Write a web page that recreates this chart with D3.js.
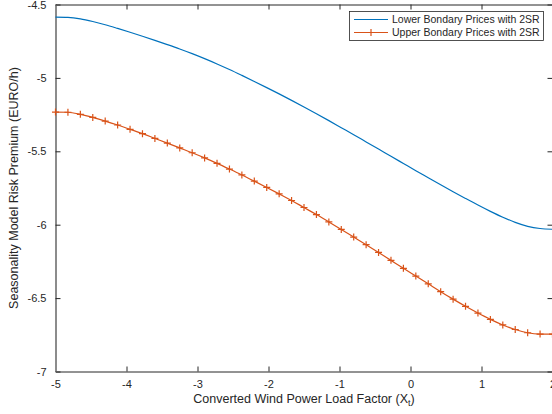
<!DOCTYPE html>
<html>
<head>
<meta charset="utf-8">
<script src="https://cdn.jsdelivr.net/npm/d3@7"></script>
<style>
  html, body { margin: 0; padding: 0; background: #fff; }
  svg { display: block; font-family: "Liberation Sans", Arial, Helvetica, sans-serif; }
</style>
</head>
<body>
<svg id="chart" width="552" height="414"></svg>
<script>
// Load factor grid (41 samples from -5 to 2)
const loadFactor = [
  -5, -4.825, -4.65, -4.475, -4.3, -4.125, -3.95, -3.775, -3.6, -3.425,
  -3.25, -3.075, -2.9, -2.725, -2.55, -2.375, -2.2, -2.025, -1.85, -1.675,
  -1.5, -1.325, -1.15, -0.975, -0.8, -0.625, -0.45, -0.275, -0.1, 0.075,
  0.25, 0.425, 0.6, 0.775, 0.95, 1.125, 1.3, 1.475, 1.65, 1.825, 2
];

// Lower boundary prices with 2SR
const lowerPrices = [
  -4.586, -4.588, -4.598, -4.616, -4.638, -4.663, -4.689, -4.716, -4.744, -4.773,
  -4.803, -4.835, -4.869, -4.905, -4.943, -4.983, -5.024, -5.066, -5.109, -5.153,
  -5.198, -5.244, -5.291, -5.339, -5.387, -5.436, -5.485, -5.534, -5.583, -5.632,
  -5.680, -5.728, -5.775, -5.821, -5.866, -5.909, -5.949, -5.984, -6.011, -6.026,
  -6.031
];

// Upper boundary prices with 2SR
const upperPrices = [
  -5.233, -5.234, -5.248, -5.269, -5.294, -5.321, -5.350, -5.380, -5.412, -5.444,
  -5.477, -5.510, -5.545, -5.582, -5.621, -5.661, -5.703, -5.746, -5.790, -5.835,
  -5.883, -5.931, -5.981, -6.032, -6.084, -6.136, -6.189, -6.243, -6.297, -6.350,
  -6.403, -6.456, -6.507, -6.556, -6.602, -6.645, -6.683, -6.714, -6.736, -6.745,
  -6.746
];

const xTicks = [-5, -4, -3, -2, -1, 0, 1, 2];
const yTicks = [-7, -6.5, -6, -5.5, -5, -4.5];
const xTickLabels = ["-5", "-4", "-3", "-2", "-1", "0", "1", "2"];
const yTickLabels = ["-7", "-6.5", "-6", "-5.5", "-5", "-4.5"];

const seriesNames = ["Lower Bondary Prices with 2SR", "Upper Bondary Prices with 2SR"];
const seriesColors = ["#0072BD", "#D95319"];

const svg = d3.select("#chart");
const plot = { left: 55.5, right: 552.5, top: 4.5, bottom: 371.5 };

const x = d3.scaleLinear().domain([-5, 2]).range([plot.left, plot.right]);
const y = d3.scaleLinear().domain([-7, -4.5]).range([plot.bottom, plot.top]);

const axisColor = "#262626";

// Axes with inward ticks, MATLAB style
const xAxisBottom = d3.axisBottom(x).tickValues(xTicks).tickSizeInner(-5).tickSizeOuter(0)
  .tickPadding(9).tickFormat((d, i) => xTickLabels[i]);
const xAxisTop = d3.axisTop(x).tickValues(xTicks).tickSizeInner(-5).tickSizeOuter(0).tickFormat("");
const yAxisLeft = d3.axisLeft(y).tickValues(yTicks).tickSizeInner(-5).tickSizeOuter(0)
  .tickPadding(9).tickFormat((d, i) => yTickLabels[i]);
const yAxisRight = d3.axisRight(y).tickValues(yTicks).tickSizeInner(-5).tickSizeOuter(0).tickFormat("");

function styleAxis(g, color) {
  g.selectAll(".domain").attr("stroke", color);
  g.selectAll(".tick line").attr("stroke", axisColor);
  g.selectAll(".tick text").attr("fill", axisColor).style("font-size", "11px")
    .style("font-family", "'Liberation Sans', Arial, Helvetica, sans-serif");
}

svg.append("g").attr("transform", `translate(0,${plot.top})`).call(xAxisTop).call(g => styleAxis(g, axisColor));
svg.append("g").attr("transform", `translate(${plot.right},0)`).call(yAxisRight).call(g => styleAxis(g, axisColor));
svg.append("g").attr("transform", `translate(0,${plot.bottom})`).call(xAxisBottom).call(g => styleAxis(g, axisColor));
svg.append("g").attr("transform", `translate(${plot.left},0)`).call(yAxisLeft)
  .call(g => styleAxis(g, "#8c8c8c"))
  .call(g => g.select(".domain").attr("stroke-width", 2));

// Series lines
const line = d3.line().x(d => x(d[0])).y(d => y(d[1])).curve(d3.curveMonotoneX);
const lowerData = loadFactor.map((v, i) => [v, lowerPrices[i]]);
const upperData = loadFactor.map((v, i) => [v, upperPrices[i]]);

svg.append("path").datum(lowerData).attr("d", line)
  .attr("fill", "none").attr("stroke", seriesColors[0]).attr("stroke-width", 1.2);
svg.append("path").datum(upperData).attr("d", line)
  .attr("fill", "none").attr("stroke", seriesColors[1]).attr("stroke-width", 1.2);

// Plus markers on the upper series
const m = 3.5;
svg.append("g").selectAll("path").data(upperData).join("path")
  .attr("d", d => `M${x(d[0]) - m},${y(d[1])}H${x(d[0]) + m}M${x(d[0])},${y(d[1]) - m}V${y(d[1]) + m}`)
  .attr("stroke", seriesColors[1]).attr("stroke-width", 1.2).attr("fill", "none");

// Axis titles
const xLabel = svg.append("text")
  .attr("x", 304).attr("y", 403)
  .attr("text-anchor", "middle").attr("fill", axisColor).style("font-size", "12.5px");
xLabel.append("tspan").text("Converted Wind Power Load Factor (X");
xLabel.append("tspan").attr("baseline-shift", "-30%").style("font-size", "9px").text("t");
xLabel.append("tspan").text(")");

svg.append("text")
  .attr("transform", "translate(18,188) rotate(-90)")
  .attr("text-anchor", "middle").attr("fill", axisColor).style("font-size", "12.5px")
  .text("Seasonality Model Risk Premium (EURO/h)");

// Legend
const legend = svg.append("g");
legend.append("rect").attr("x", 349.5).attr("y", 11.5).attr("width", 194).attr("height", 29)
  .attr("fill", "#fff").attr("stroke", axisColor).attr("stroke-width", 0.8);
seriesNames.forEach((name, i) => {
  const ly = 19.5 + i * 13;
  legend.append("line").attr("x1", 354).attr("x2", 388).attr("y1", ly).attr("y2", ly)
    .attr("stroke", seriesColors[i]).attr("stroke-width", 1.2);
  if (i === 1) {
    legend.append("path").attr("d", `M${371 - m},${ly}H${371 + m}M371,${ly - m}V${ly + m}`)
      .attr("stroke", seriesColors[i]).attr("stroke-width", 1.2);
  }
  legend.append("text").attr("x", 392).attr("y", ly + 3.5).attr("fill", axisColor)
    .style("font-size", "10.5px").text(name);
});
</script>
</body>
</html>
